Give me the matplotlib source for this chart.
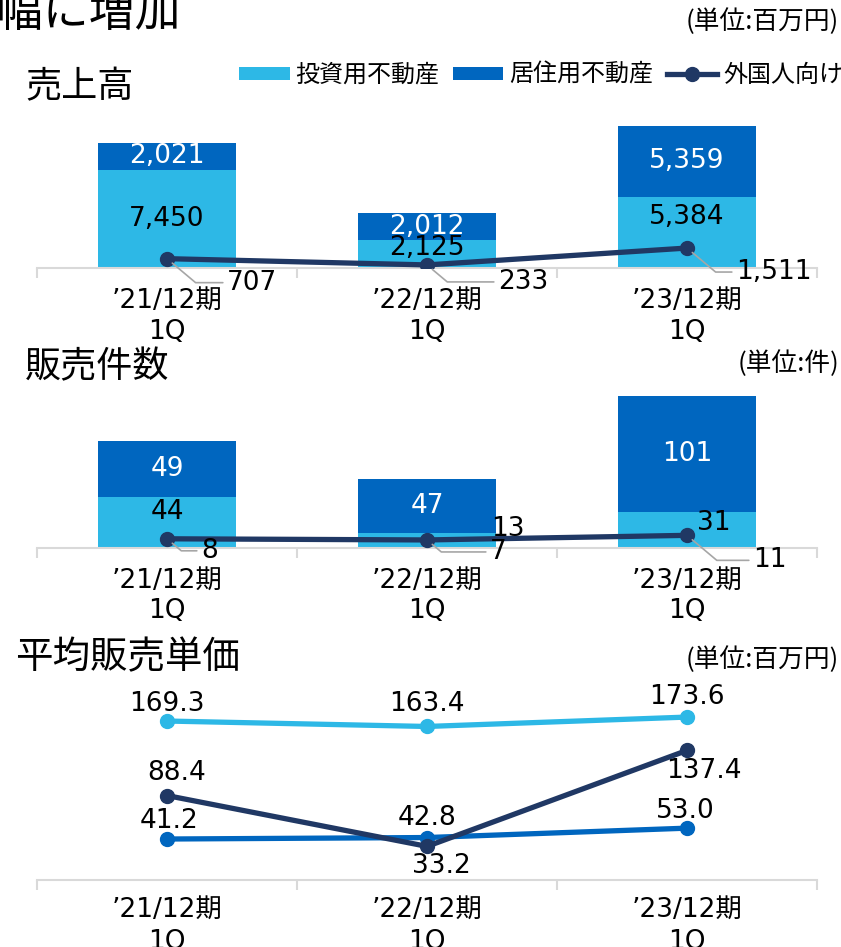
import matplotlib
matplotlib.use("Agg")
import matplotlib.pyplot as plt
import numpy as np

plt.rcParams['font.family'] = ['Noto Sans CJK JP', 'DejaVu Sans']
NUM_FONT = ['DejaVu Sans', 'Noto Sans CJK JP']

# data
categories = ["’21/12期\n1Q", "’22/12期\n1Q", "’23/12期\n1Q"]
sales_invest = [7450, 2125, 5384]
sales_resid = [2021, 2012, 5359]
sales_foreign = [707, 233, 1511]
count_invest = [44, 13, 31]
count_resid = [49, 47, 101]
count_foreign = [8, 7, 11]
price_invest = [169.3, 163.4, 173.6]
price_resid = [41.2, 42.8, 53.0]
price_foreign = [88.4, 33.2, 137.4]
legend_labels = ["投資用不動産", "居住用不動産", "外国人向け"]

C_LIGHT = "#2db8e6"
C_DARK = "#0066bf"
C_NAVY = "#203864"
C_GRID = "#d9d9d9"
C_LEAD = "#a6a6a6"

W, H = 841, 947
fig = plt.figure(figsize=(W / 100, H / 100), dpi=100)


def add_ax(top_px, bottom_px):
    return fig.add_axes([37 / W, (H - bottom_px) / H, 780 / W, (bottom_px - top_px) / H])


def style_ax(ax, ylim, xlab_pad, lsp):
    x = np.arange(len(categories))
    ax.set_xlim(-0.5, len(categories) - 0.5)
    ax.set_ylim(*ylim)
    for s in ["top", "right", "left"]:
        ax.spines[s].set_visible(False)
    ax.spines["bottom"].set_color(C_GRID)
    ax.spines["bottom"].set_linewidth(1.5)
    ax.set_yticks([])
    ax.set_xticks(x)
    ax.set_xticklabels(categories, fontsize=19, linespacing=lsp, family=NUM_FONT)
    ax.tick_params(axis="x", which="major", length=0, pad=xlab_pad)
    ax.set_xticks(np.arange(-0.5, len(categories)), minor=True)
    ax.tick_params(axis="x", which="minor", length=7, width=1.5, color=C_GRID, direction="out")
    ax.patch.set_alpha(0)


def leader(ax, xv, yv, text, dx, dy, fs=19):
    ax.annotate(text, xy=(xv, yv), xytext=(dx, dy), textcoords="offset pixels",
                ha="left", va="center", fontsize=fs, color="black", annotation_clip=False,
                family=NUM_FONT,
                arrowprops=dict(arrowstyle="-", color=C_LEAD, lw=1.2, shrinkA=1, shrinkB=5,
                                connectionstyle="angle,angleA=0,angleB=-40,rad=0"))


def seg_label(ax, xv, yv, text, dx, dy, color, fs=19):
    ax.annotate(text, xy=(xv, yv), xytext=(dx, dy), textcoords="offset pixels",
                ha="center", va="center", fontsize=fs, color=color, annotation_clip=False,
                family=NUM_FONT)


x = np.arange(len(categories))
bw = 0.53

# ---- panel 1: 売上高
ax1 = add_ax(110, 268)
style_ax(ax1, (0, 11960), 14, 1.3)
b1 = ax1.bar(x, sales_invest, bw, color=C_LIGHT, label=legend_labels[0], zorder=2)
b2 = ax1.bar(x, sales_resid, bw, bottom=sales_invest, color=C_DARK, label=legend_labels[1], zorder=2)
l1, = ax1.plot(x, sales_foreign, color=C_NAVY, lw=3.8, marker="o", ms=10, label=legend_labels[2], zorder=3)
inv_off = [0, 6, 15]
for i in range(len(x)):
    seg_label(ax1, x[i], sales_invest[i] / 2, f"{sales_invest[i]:,}", 0, inv_off[i], "black")
    seg_label(ax1, x[i], sales_invest[i] + sales_resid[i] / 2, f"{sales_resid[i]:,}", 0, 0, "white")
lead1 = [(60, -24), (71, -17), (49, -24)]
for i in range(len(x)):
    leader(ax1, x[i], sales_foreign[i], f"{sales_foreign[i]:,}", *lead1[i])

fig.legend(handles=[b1, b2, l1], labels=legend_labels, loc="center right",
           bbox_to_anchor=(843 / W, (H - 75) / H), ncol=3, frameon=False, fontsize=17.3,
           handlelength=2.1, handleheight=0.5, handletextpad=0.25, columnspacing=0.55,
           borderaxespad=0, borderpad=0)

# ---- panel 2: 販売件数
ax2 = add_ax(380, 548)
style_ax(ax2, (0, 146), 14, 1.25)
ax2.bar(x, count_invest, bw, color=C_LIGHT, zorder=2)
ax2.bar(x, count_resid, bw, bottom=count_invest, color=C_DARK, zorder=2)
ax2.plot(x, count_foreign, color=C_NAVY, lw=3.8, marker="o", ms=10, zorder=3)
cnt_off = [(0, 11), (81, 12), (27, 7)]
for i in range(len(x)):
    seg_label(ax2, x[i], count_invest[i] / 2, f"{count_invest[i]}", *cnt_off[i], "black")
    seg_label(ax2, x[i], count_invest[i] + count_resid[i] / 2, f"{count_resid[i]}", 0, 0, "white")
lead2 = [(34, -12), (63, -12), (66, -25)]
for i in range(len(x)):
    leader(ax2, x[i], count_foreign[i], f"{count_foreign[i]}", *lead2[i])

# ---- panel 3: 平均販売単価
ax3 = add_ax(690, 880)
style_ax(ax3, (-3.3, 203), 12, 1.32)
ax3.plot(x, price_invest, color=C_LIGHT, lw=3.8, marker="o", ms=10, zorder=2)
ax3.plot(x, price_resid, color=C_DARK, lw=3.8, marker="o", ms=10, zorder=3)
ax3.plot(x, price_foreign, color=C_NAVY, lw=3.8, marker="o", ms=10, zorder=4)
off_inv = [(0, 17), (0, 22), (0, 20)]
off_res = [(2, 18), (0, 20), (-2, 17)]
off_for = [(10, 23), (14, -20), (17, -21)]
for i in range(len(x)):
    seg_label(ax3, x[i], price_invest[i], f"{price_invest[i]:.1f}", *off_inv[i], "black")
    seg_label(ax3, x[i], price_resid[i], f"{price_resid[i]:.1f}", *off_res[i], "black")
    seg_label(ax3, x[i], price_foreign[i], f"{price_foreign[i]:.1f}", *off_for[i], "black")

# ---- titles and units
fig.text(-3 / W, (H - 26) / H, "幅に増加", fontsize=33, ha="left", va="baseline")
fig.text(25 / W, (H - 87) / H, "売上高", fontsize=26, ha="left", va="center")
fig.text(25 / W, (H - 367) / H, "販売件数", fontsize=26, ha="left", va="center")
fig.text(15 / W, (H - 658) / H, "平均販売単価", fontsize=27, ha="left", va="center")
fig.text(839 / W, (H - 22) / H, "(単位:百万円)", fontsize=18.5, ha="right", va="center")
fig.text(839 / W, (H - 364) / H, "(単位:件)", fontsize=18.5, ha="right", va="center")
fig.text(839 / W, (H - 660) / H, "(単位:百万円)", fontsize=18.5, ha="right", va="center")

fig.savefig("out.png", dpi=100)
